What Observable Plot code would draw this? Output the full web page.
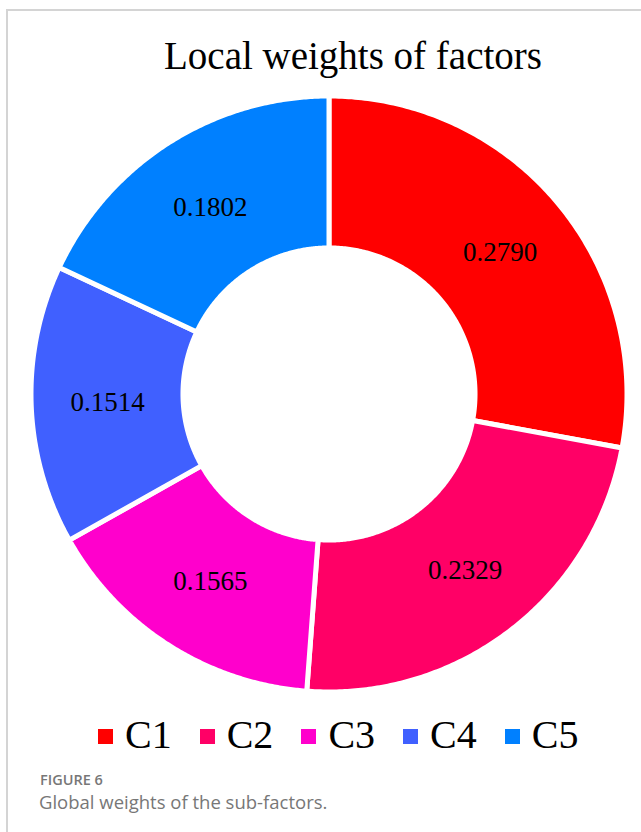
<!DOCTYPE html>
<html><head><meta charset="utf-8">
<script src="https://cdn.jsdelivr.net/npm/d3@7"></script>
<script src="https://cdn.jsdelivr.net/npm/@observablehq/plot@0.6"></script>
<style>
html,body{margin:0;padding:0;background:#fff}
body{width:641px;height:832px;position:relative;overflow:hidden}
#frame{position:absolute;left:6px;top:9px;right:-2px;bottom:-2px;border-left:2px solid #d4d4d4;border-top:2px solid #d4d4d4}
#title{position:absolute;left:0;top:36px;width:706px;text-align:center;font-family:'Liberation Serif',serif;font-size:39px;line-height:39px;color:#000;white-space:nowrap}
#chart{position:absolute;left:0;top:90px}
#legend{position:absolute;left:98px;top:714.5px;display:flex;align-items:center;gap:28px}
#legend .item{display:flex;align-items:center}
#legend .sw{width:15px;height:15px;margin-right:12px;margin-top:3px}
#legend .lab{font-family:'Liberation Serif',serif;font-size:40px;line-height:40px;color:#000}
#cap1{position:absolute;left:40px;top:772.5px;font-family:'Open Sans',sans-serif;font-weight:600;font-size:14.5px;line-height:14.5px;color:#777}
#cap2{position:absolute;left:39px;top:793px;font-family:'Open Sans',sans-serif;font-size:18.5px;line-height:18.5px;color:#777;white-space:nowrap}
</style></head><body>
<div id="frame"></div>
<div id="title">Local weights of factors</div>
<div id="chart"></div>
<div id="legend"></div>
<div id="cap1">FIGURE 6</div>
<div id="cap2">Global weights of the sub-factors.</div>
<script>
const categories = ["C1", "C2", "C3", "C4", "C5"];
const weights = [0.2790, 0.2329, 0.1565, 0.1514, 0.1802];
const labels = ["0.2790", "0.2329", "0.1565", "0.1514", "0.1802"];
const colors = ["#FF0000", "#FF0066", "#FF00CC", "#4060FF", "#0080FF"];

const innerR = 0.49, outerR = 1;
const arcs = d3.pie().sort(null).value(d => d)(weights);
const ring = [];
arcs.forEach((p, i) => {
  const n = 160;
  for (let k = 0; k <= n; k++) {
    const a = p.startAngle + (p.endAngle - p.startAngle) * k / n;
    ring.push({name: categories[i],
      xi: innerR * Math.sin(a), yi: innerR * Math.cos(a),
      xo: outerR * Math.sin(a), yo: outerR * Math.cos(a)});
  }
});
const cents = arcs.map((p, i) => {
  const a = (p.startAngle + p.endAngle) / 2, r = (innerR + outerR) / 2;
  return {name: categories[i], label: labels[i], x: r * Math.sin(a), y: r * Math.cos(a)};
});

const plot = Plot.plot({
  width: 641, height: 610,
  x: {domain: [-1, 1], range: [31, 627], axis: null},
  y: {domain: [-1, 1], range: [602, 6], axis: null},
  color: {domain: categories, range: colors},
  style: {background: "transparent", fontFamily: "'Liberation Serif', serif"},
  marks: [
    Plot.area(ring, {x1: "xi", y1: "yi", x2: "xo", y2: "yo", z: "name", fill: "name", stroke: "white", strokeWidth: 5, curve: "linear"}),
    Plot.text(cents, {x: "x", y: "y", text: "label", fontSize: 27, fill: "black", fontFamily: "'Liberation Serif', serif"})
  ]
});
document.getElementById("chart").appendChild(plot);

const color = plot.scale("color");
const leg = document.getElementById("legend");
categories.forEach((c, i) => {
  const item = document.createElement("div");
  item.className = "item";
  const sw = document.createElement("div");
  sw.className = "sw";
  sw.style.background = color.apply(c);
  const lab = document.createElement("div");
  lab.className = "lab";
  lab.textContent = c;
  item.appendChild(sw); item.appendChild(lab);
  leg.appendChild(item);
});
</script>
</body></html>
